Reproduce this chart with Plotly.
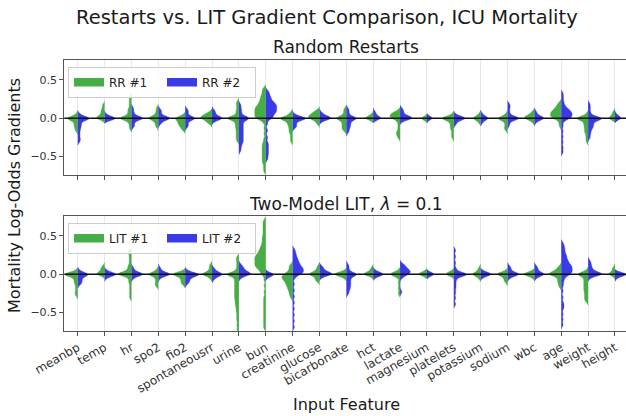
import numpy as np
import plotly.graph_objects as go

features = ["meanbp", "temp", "hr", "spo2", "fio2", "spontaneousrr", "urine", "bun",
            "creatinine", "glucose", "bicarbonate", "hct", "lactate", "magnesium",
            "platelets", "potassium", "sodium", "wbc", "age", "weight", "height"]

# Random restarts, model #1 (green, left halves) - gradient samples per feature
rr1 = [
    [0.0, 0.0, -0.01, 0.01, -0.005, 0.04, -0.03, -0.06, -0.09, -0.12, -0.16],
    [0.0, 0.005, 0.01, -0.01, 0.03, 0.06, 0.09, 0.12, 0.17],
    [0.0, 0.0, 0.01, -0.01, 0.005, -0.005, 0.04, 0.07, 0.1, 0.13, 0.18, 0.23, 0.28, -0.04, -0.08, -0.13],
    [0.0, 0.0, 0.01, -0.01, 0.005, 0.04, 0.08, 0.13, -0.04, -0.07, -0.11],
    [0.0, 0.0, 0.01, -0.01, 0.03, -0.025, -0.04, -0.055, -0.07, -0.085, -0.1, -0.125, -0.15],
    [0.0, 0.0, 0.01, -0.005, 0.02, 0.03, 0.04, 0.055, 0.075, -0.03, -0.05, -0.065],
    [0.0, 0.0, 0.01, -0.01, 0.005, -0.005, 0.04, 0.08, 0.12, 0.17, 0.21, -0.04, -0.07, -0.1, -0.13, -0.17, -0.21, -0.25, -0.29],
    [-0.02, -0.01, 0.0, 0.01, 0.02, 0.03, 0.04, 0.05, 0.06, 0.07, 0.08, 0.09, 0.1, 0.11, 0.12, 0.13, 0.14, 0.15,
     0.16, 0.175, 0.19, 0.205, 0.22, 0.24, 0.26, 0.28, 0.3, 0.33, 0.36, 0.39, -0.06, -0.13, -0.2, -0.27,
     -0.32, -0.35, -0.38, -0.41, -0.44, -0.47, -0.5, -0.53, -0.56, -0.59, -0.64, -0.69],
    [0.0, 0.0, 0.01, -0.01, 0.005, -0.005, 0.04, 0.07, -0.025, -0.045, -0.065, -0.085, -0.11, -0.14, -0.17, -0.2, -0.25, -0.3],
    [0.0, 0.0, 0.01, 0.02, 0.03, 0.04, 0.05, 0.065, 0.08, 0.1, -0.01, -0.04, -0.07],
    [0.0, 0.0, 0.01, -0.01, 0.005, 0.04, 0.08, 0.12, -0.035, -0.06, -0.085, -0.11, -0.135, -0.16],
    [0.0, 0.0, 0.01, -0.01, 0.04],
    [0.0, 0.01, 0.02, 0.03, 0.04, 0.05, 0.06, 0.075, 0.09, -0.01, -0.05, -0.1, -0.15, -0.19, -0.21, -0.25],
    [0.0, 0.005, -0.01],
    [0.0, 0.0, 0.01, -0.01, 0.005, -0.005, 0.04, -0.035, -0.06, -0.09, -0.12, -0.15, -0.2, -0.25],
    [0.0, 0.0, 0.01, -0.01, 0.05, -0.05],
    [0.0, 0.0, 0.01, -0.01, -0.005, 0.05, -0.04, -0.08, -0.12, -0.15],
    [0.0, 0.0, 0.01, 0.02, 0.03, 0.05, 0.08, -0.01, -0.045],
    [-0.01, 0.0, 0.01, 0.02, 0.03, 0.04, 0.05, 0.06, 0.07, 0.08, 0.09, 0.1, 0.115, 0.13, 0.15, 0.17, 0.2, -0.05, -0.1],
    [0.0, 0.0, 0.01, -0.01, 0.005, -0.005, 0.05, -0.035, -0.06, -0.085, -0.11, -0.14, -0.17, -0.2, -0.25, -0.3],
    [0.0, 0.005, -0.005, 0.04, 0.08],
]

# Random restarts, model #2 (blue, right halves)
rr2 = [
    [0.0, 0.0, 0.01, -0.01, 0.005, -0.005, 0.05, -0.03, -0.06, -0.09, -0.12, -0.16, -0.21, -0.26, -0.3],
    [0.0, 0.0, -0.01, -0.015, 0.005, -0.005, 0.04],
    [0.0, 0.0, 0.01, -0.01, 0.005, -0.005, 0.04, 0.08, 0.13, -0.04, -0.08, -0.11],
    [0.0, 0.0, 0.01, -0.01, 0.005, -0.005, 0.04, 0.08, 0.11, -0.04, -0.07],
    [0.0, 0.0, 0.01, -0.01, -0.005, 0.04, 0.08, 0.11, -0.04, -0.08, -0.11],
    [0.0, 0.0, 0.01, -0.01, 0.005, 0.04, 0.07, 0.1, -0.03],
    [0.0, 0.0, 0.01, -0.01, 0.005, 0.04, 0.08, 0.12, 0.17, -0.03, -0.055, -0.08, -0.105, -0.13, -0.155, -0.18,
     -0.205, -0.23, -0.255, -0.28, -0.305, -0.33, -0.37, -0.42],
    [-0.01, 0.0, 0.015, 0.03, 0.045, 0.06, 0.07, 0.08, 0.09, 0.1, 0.11, 0.12, 0.13, 0.14, 0.15, 0.16, 0.17, 0.18,
     0.19, 0.2, 0.215, 0.23, 0.25, 0.27, 0.29, 0.32, 0.35, -0.07, -0.16, -0.25, -0.32, -0.36, -0.4, -0.44, -0.48, -0.53],
    [0.0, 0.0, 0.01, -0.01, 0.005, -0.005, -0.015, 0.04, -0.04, -0.07, -0.1, -0.12],
    [0.0, 0.0, 0.01, -0.01, 0.005, 0.015, 0.04, 0.07, -0.035],
    [0.0, 0.0, 0.01, -0.01, -0.005, 0.04, 0.08, 0.12, -0.035, -0.06, -0.085, -0.11, -0.14, -0.18],
    [0.0, 0.0, 0.01, -0.01, 0.04, 0.08],
    [0.0, 0.0, 0.01, -0.01, 0.005, 0.02, 0.03, 0.06, 0.09, 0.12, -0.03],
    [0.0, -0.005, 0.01],
    [0.0, 0.0, 0.01, -0.01, 0.005, -0.005, 0.04, -0.04, -0.075],
    [0.0, 0.0, 0.01, -0.01, 0.05, -0.05],
    [0.0, 0.0, 0.01, -0.01, 0.005, -0.005, 0.04, 0.09, 0.14, 0.18, -0.04, -0.09],
    [0.0, 0.0, 0.01, -0.01, 0.005, 0.04, 0.08, -0.045],
    [-0.01, 0.0, 0.01, 0.02, 0.03, 0.04, 0.05, 0.06, 0.07, 0.08, 0.09, 0.1, 0.115, 0.13, 0.15, 0.18, 0.22, 0.27,
     0.32, -0.04, -0.1, -0.17, -0.24, -0.31, -0.38, -0.44],
    [0.0, 0.0, 0.01, -0.01, 0.005, -0.005, -0.015, 0.04, 0.08, 0.13, 0.18, -0.03, -0.05, -0.07, -0.09, -0.11,
     -0.13, -0.16, -0.2, -0.25],
    [0.0, 0.005, -0.005, 0.04],
]

# Two-model LIT, model #1 (green, left halves)
lit1 = [
    [0.0, 0.0, 0.01, -0.01, 0.005, -0.005, -0.015, 0.035, -0.04, -0.07, -0.1, -0.13, -0.18, -0.23, -0.27],
    [0.0, 0.005, -0.005, 0.015, 0.04, 0.07, 0.1],
    [0.0, 0.0, 0.01, -0.01, 0.005, -0.005, 0.015, 0.035, 0.06, 0.09, 0.12, 0.17, 0.22, 0.27, 0.3, -0.04, -0.08,
     -0.12, -0.18, -0.24, -0.3],
    [0.0, 0.0, 0.01, -0.01, 0.005, 0.05, -0.04, -0.08, -0.12, -0.15],
    [0.0, 0.0, 0.01, -0.01, 0.005, -0.005, 0.03, -0.03, -0.055, -0.08, -0.105, -0.13],
    [0.0, 0.0, 0.01, -0.01, 0.005, 0.04, 0.08, 0.12, -0.045],
    [0.0, 0.0, 0.01, -0.01, 0.005, -0.005, 0.04, 0.08, 0.13, 0.18, 0.22, -0.03, -0.055, -0.08, -0.105, -0.13,
     -0.155, -0.18, -0.205, -0.23, -0.255, -0.28, -0.305, -0.33, -0.36, -0.39, -0.42, -0.46, -0.5, -0.55,
     -0.6, -0.66, -0.72],
    [-0.01, 0.01, 0.03, 0.05, 0.065, 0.08, 0.09, 0.1, 0.11, 0.12, 0.13, 0.14, 0.15, 0.16, 0.17, 0.18, 0.19, 0.2,
     0.21, 0.22, 0.23, 0.24, 0.25, 0.26, 0.275, 0.29, 0.305, 0.32, 0.34, 0.36, 0.38, 0.41, 0.44, 0.47, 0.5,
     0.54, 0.58, 0.62, 0.66, 0.7, -0.07, -0.15, -0.23, -0.3, -0.35, -0.4, -0.45, -0.5, -0.55, -0.6,
     -0.65, -0.7],
    [0.03, 0.06, 0.09, 0.12, 0.01, 0.0, -0.01, -0.02, -0.03, -0.04, -0.05, -0.06, -0.07, -0.08, -0.095, -0.11,
     -0.125, -0.14, -0.16, -0.18, -0.2, -0.23, -0.26, -0.3],
    [0.0, 0.0, 0.01, -0.01, 0.005, 0.03, 0.06, 0.1, -0.04, -0.07, -0.085],
    [0.0, 0.0, 0.01, -0.01, 0.005, -0.005, 0.03, -0.04],
    [0.0, 0.0, 0.01, -0.01, 0.005, 0.04, 0.08],
    [0.0, 0.0, 0.01, -0.01, 0.005, 0.04, -0.04, -0.11, -0.18, -0.25],
    [0.0, 0.0, 0.01, -0.01, 0.025],
    [0.0, 0.0, 0.01, -0.01, 0.03],
    [0.0, 0.0, 0.01, -0.01, 0.04, 0.08, -0.045],
    [0.0, 0.0, 0.01, -0.01, 0.005, 0.03, -0.04, -0.07, -0.1],
    [0.0, 0.0, 0.01, -0.01, 0.005, 0.03, -0.03],
    [0.0, 0.0, 0.01, -0.01, 0.005, 0.02, 0.035, 0.05, 0.07, 0.1, -0.03, -0.06, -0.09, -0.12, -0.16],
    [0.0, 0.0, 0.01, -0.01, 0.005, 0.04, -0.03, -0.055, -0.08, -0.105, -0.13, -0.155, -0.18, -0.205, -0.23,
     -0.26, -0.29, -0.32, -0.35],
    [0.0, 0.005, -0.005, 0.04, 0.08],
]

# Two-model LIT, model #2 (blue, right halves)
lit2 = [
    [0.0, 0.0, 0.01, -0.01, -0.005, 0.04, -0.03, -0.055, -0.08, -0.105, -0.13],
    [0.0, 0.0, 0.01, -0.01, 0.005, -0.005, 0.04, -0.04],
    [0.0, 0.0, 0.01, -0.01, 0.005, -0.005, 0.04, 0.08, -0.045],
    [0.0, 0.0, 0.01, -0.01, 0.005, -0.005, 0.04, 0.08, -0.045],
    [0.0, 0.0, 0.01, -0.01, 0.005, -0.005, -0.015, 0.04, -0.03, -0.05, -0.07, -0.095, -0.12],
    [0.0, 0.0, 0.01, -0.01, 0.005, 0.04, 0.07, -0.03, -0.06],
    [0.0, 0.0, 0.01, -0.01, 0.005, 0.02, 0.035, 0.05, 0.07, 0.09, 0.12, -0.04],
    [0.0, -0.005, -0.01, 0.01, -0.03],
    [-0.01, 0.0, 0.01, 0.02, 0.03, 0.04, 0.05, 0.06, 0.07, 0.08, 0.09, 0.1, 0.115, 0.13, 0.145, 0.16, 0.18,
     0.2, 0.22, 0.25, 0.28, 0.32, -0.05, -0.13, -0.21, -0.29, -0.37, -0.45, -0.53, -0.61, -0.69],
    [0.0, 0.0, 0.01, -0.01, 0.005, 0.015, 0.03, 0.05, 0.075, 0.1, -0.03],
    [0.0, 0.0, 0.01, -0.01, -0.005, 0.04, 0.08, 0.12, -0.03, -0.055, -0.08, -0.105, -0.13, -0.155, -0.18, -0.21, -0.25],
    [0.0, 0.0, 0.01, -0.01, 0.005, 0.04, -0.03],
    [0.0, 0.01, 0.02, 0.03, 0.04, 0.05, 0.06, 0.075, 0.09, 0.11, 0.13, -0.01, -0.04, -0.23],
    [0.0, 0.005, -0.01, 0.01],
    [0.0, 0.0, 0.01, -0.01, 0.005, -0.005, -0.015, 0.04, 0.08, 0.15, 0.23, 0.31, -0.04, -0.08, -0.13, -0.18,
     -0.24, -0.31, -0.39],
    [0.0, 0.0, 0.01, -0.01, 0.005, 0.03, -0.03],
    [0.0, 0.0, 0.01, -0.01, 0.005, -0.005, 0.04, 0.07, 0.1, -0.045],
    [0.0, 0.0, 0.01, -0.01, 0.005, 0.04, 0.07, 0.1, -0.04],
    [-0.01, 0.0, 0.01, 0.02, 0.03, 0.04, 0.05, 0.06, 0.07, 0.08, 0.09, 0.1, 0.11, 0.12, 0.13, 0.145, 0.16,
     0.175, 0.19, 0.21, 0.23, 0.25, 0.27, 0.3, 0.33, 0.36, 0.4, -0.03, -0.06, -0.1, -0.15, -0.22, -0.3,
     -0.37, -0.41, -0.45, -0.52, -0.59, -0.66],
    [0.0, 0.0, 0.01, -0.01, 0.005, -0.005, 0.015, 0.03, 0.05, 0.07, 0.1, 0.13, 0.17, -0.04],
    [0.0, 0.0, 0.01, -0.01, 0.005, -0.005, -0.04],
]

yticks = [-0.5, 0.0, 0.5]
yticktext = ["\u22120.5", "0.0", "0.5"]

# ---------------- styling ----------------
W, H = 626, 416
FONT = "DejaVu Sans"
GREEN = "#47ad47"
BLUE = "#3a3ae6"
BW = 0.025            # KDE bandwidth (value units)
HALF_MAX = 0.5        # widest half-violin, in category units


def px_x(p):
    return p / W


def px_y(p):
    return 1 - p / H


def peak_count_density(vals):
    v = np.asarray(vals, dtype=float)
    t = np.linspace(v.min() - 2 * BW, v.max() + 2 * BW, 600)
    s = np.exp(-0.5 * ((t[:, None] - v[None, :]) / BW) ** 2).sum(axis=1) / (BW * np.sqrt(2 * np.pi))
    return s.max()


panels = [
    ("x", "y", [(rr1, "negative", GREEN), (rr2, "positive", BLUE)]),
    ("x2", "y2", [(lit1, "negative", GREEN), (lit2, "positive", BLUE)]),
]

gmax = max(peak_count_density(v) for _, _, ser in panels for data, _, _ in ser for v in data)

fig = go.Figure()
for xa, ya, series in panels:
    for data, side, color in series:
        for feat, vals in zip(features, data):
            w = 2 * HALF_MAX * peak_count_density(vals) / gmax
            fig.add_trace(go.Violin(
                x=[feat] * len(vals), y=vals, side=side, width=w,
                bandwidth=BW, spanmode="soft", points=False,
                fillcolor=color, line=dict(color=color, width=0.4), opacity=1,
                showlegend=False, hoverinfo="skip", xaxis=xa, yaxis=ya,
            ))

# legend entries
for name, color, leg, xa, ya in [("RR #1", GREEN, "legend", "x", "y"), ("RR #2", BLUE, "legend", "x", "y"),
                                  ("LIT #1", GREEN, "legend2", "x2", "y2"), ("LIT #2", BLUE, "legend2", "x2", "y2")]:
    fig.add_trace(go.Scatter(x=[None], y=[None], mode="lines", fill="toself", fillcolor=color,
                             line=dict(color=color, width=5), name=name, legend=leg,
                             xaxis=xa, yaxis=ya, hoverinfo="skip"))

xdom = [px_x(64.3), 1.0]
xr = [-0.5, 20.41]
axis_line = "#555555"
common_x = dict(domain=xdom, range=xr, type="category", categoryorder="array", categoryarray=features,
                showgrid=True, gridcolor="#e8e8e8", gridwidth=1, showline=True, linecolor=axis_line,
                linewidth=1, mirror=True, ticks="outside", ticklen=4, tickcolor=axis_line, zeroline=False,
                automargin=False)
common_y = dict(range=[-0.74, 0.76], tickvals=yticks, ticktext=yticktext, showgrid=False, zeroline=False,
                showline=True, linecolor=axis_line, linewidth=1, ticks="outside", ticklen=4,
                tickcolor=axis_line, tickfont=dict(family=FONT, size=11, color="#333"), automargin=False)

legend_common = dict(orientation="h", xanchor="left", yanchor="top", bgcolor="rgba(255,255,255,0.85)",
                     bordercolor="#cccccc", borderwidth=1, font=dict(family=FONT, size=12, color="#222"),
                     entrywidth=48, entrywidthmode="pixels", itemwidth=30)

fig.update_layout(
    width=W, height=H, margin=dict(l=0, r=0, t=0, b=0, autoexpand=False),
    paper_bgcolor="white", plot_bgcolor="white",
    violinmode="overlay",
    font=dict(family=FONT, color="#222"),
    xaxis=dict(common_x, anchor="y", showticklabels=False),
    yaxis=dict(common_y, domain=[px_y(175), px_y(60)], anchor="x"),
    xaxis2=dict(common_x, anchor="y2", showticklabels=True, tickangle=-30,
                tickfont=dict(family=FONT, size=12, color="#333")),
    yaxis2=dict(common_y, domain=[px_y(331), px_y(216)], anchor="x2"),
    legend=dict(legend_common, x=px_x(68), y=px_y(67)),
    legend2=dict(legend_common, x=px_x(68), y=px_y(223)),
    shapes=[
        dict(type="line", xref="x domain", yref="y", x0=0, x1=1, y0=0, y1=0,
             line=dict(color="#111111", width=1.6), layer="above"),
        dict(type="line", xref="x2 domain", yref="y2", x0=0, x1=1, y0=0, y1=0,
             line=dict(color="#111111", width=1.6), layer="above"),
    ],
    annotations=[
        dict(text="Restarts vs. LIT Gradient Comparison, ICU Mortality", x=px_x(327), y=px_y(18),
             xref="paper", yref="paper", showarrow=False, xanchor="center", yanchor="middle",
             font=dict(family=FONT, size=19.5, color="#1a1a1a")),
        dict(text="Random Restarts", x=px_x(346), y=px_y(47), xref="paper", yref="paper", showarrow=False,
             xanchor="center", yanchor="middle", font=dict(family=FONT, size=17, color="#1a1a1a")),
        dict(text="Two-Model LIT, <i>\u03bb</i> = 0.1", x=px_x(346), y=px_y(204), xref="paper", yref="paper",
             showarrow=False, xanchor="center", yanchor="middle", font=dict(family=FONT, size=17, color="#1a1a1a")),
        dict(text="Mortality Log-Odds Gradients", x=px_x(14), y=px_y(196), xref="paper", yref="paper",
             showarrow=False, textangle=-90, xanchor="center", yanchor="middle",
             font=dict(family=FONT, size=16, color="#1a1a1a")),
        dict(text="Input Feature", x=px_x(346), y=px_y(404), xref="paper", yref="paper", showarrow=False,
             xanchor="center", yanchor="middle", font=dict(family=FONT, size=16, color="#1a1a1a")),
    ],
)

fig.write_html("out.html")
